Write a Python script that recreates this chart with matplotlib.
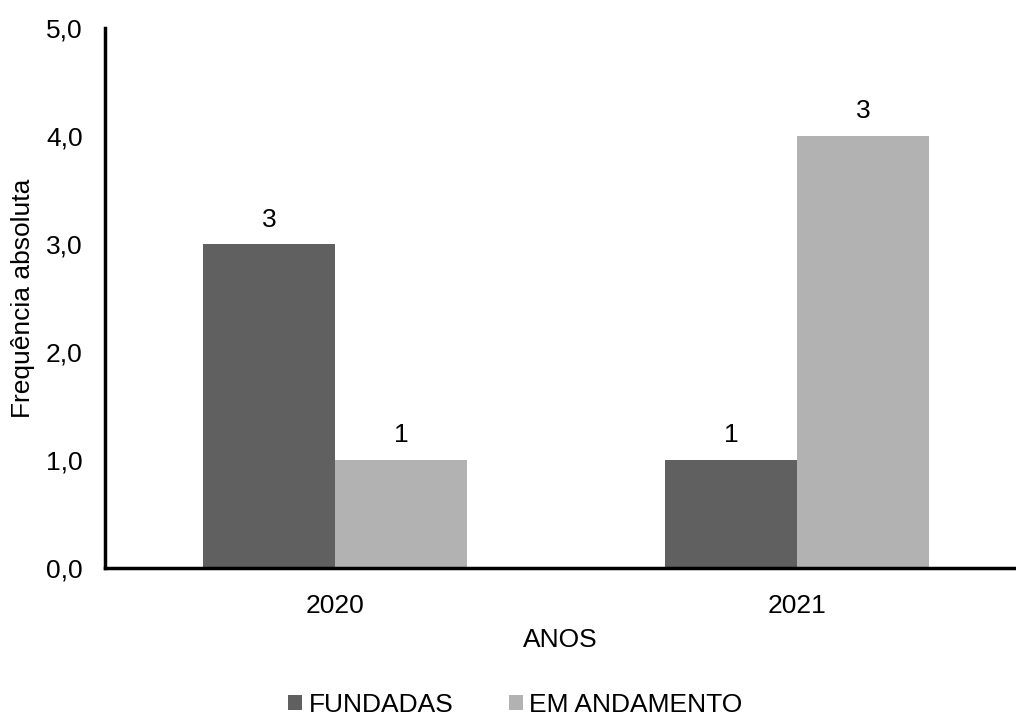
import matplotlib.pyplot as plt
import numpy as np

plt.rcParams['font.family'] = ['Liberation Sans', 'DejaVu Sans']

anos = ['2020', '2021']
fundadas = [3, 1]
em_andamento = [1, 4]
# rótulos tal como aparecem no gráfico original
rotulos_fundadas = ['3', '1']
rotulos_andamento = ['1', '3']

cor_fundadas = '#606060'
cor_andamento = '#b2b2b2'
fs = 19

fig = plt.figure(figsize=(10.16, 7.17), dpi=100)
ax = fig.add_axes([105 / 1016, 149 / 717, (1016 - 105) / 1016, 540 / 717])

x = np.arange(len(anos))
w = 0.285
b1 = ax.bar(x - w / 2, fundadas, w, color=cor_fundadas, label='FUNDADAS')
b2 = ax.bar(x + w / 2, em_andamento, w, color=cor_andamento, label='EM ANDAMENTO')

ax.bar_label(b1, labels=rotulos_fundadas, padding=9, fontsize=fs)
ax.bar_label(b2, labels=rotulos_andamento, padding=9, fontsize=fs)

ax.set_xlim(-0.498, 1.474)
ax.set_ylim(0, 5)
ax.set_yticks(np.arange(0, 5.1, 1))
ax.set_yticklabels([f'{v:.1f}'.replace('.', ',') for v in np.arange(0, 5.1, 1)])
ax.set_xticks(x)
ax.set_xticklabels(anos)
ax.tick_params(axis='both', length=0, labelsize=fs)
ax.tick_params(axis='y', pad=16)
ax.tick_params(axis='x', pad=19)

for s in ['top', 'right']:
    ax.spines[s].set_visible(False)
for s in ['left', 'bottom']:
    ax.spines[s].set_linewidth(2.5)

ax.set_xlabel('ANOS', fontsize=fs, labelpad=7)
ax.set_ylabel('Frequência absoluta', fontsize=fs, labelpad=8)

fig.legend(loc='center', bbox_to_anchor=(0.507, 1 - 705 / 717), ncol=2, frameon=False,
           fontsize=fs, handlelength=0.53, handleheight=0.53, handletextpad=0.23,
           columnspacing=2.1, borderpad=0.1)

fig.savefig('out.png', dpi=100)
